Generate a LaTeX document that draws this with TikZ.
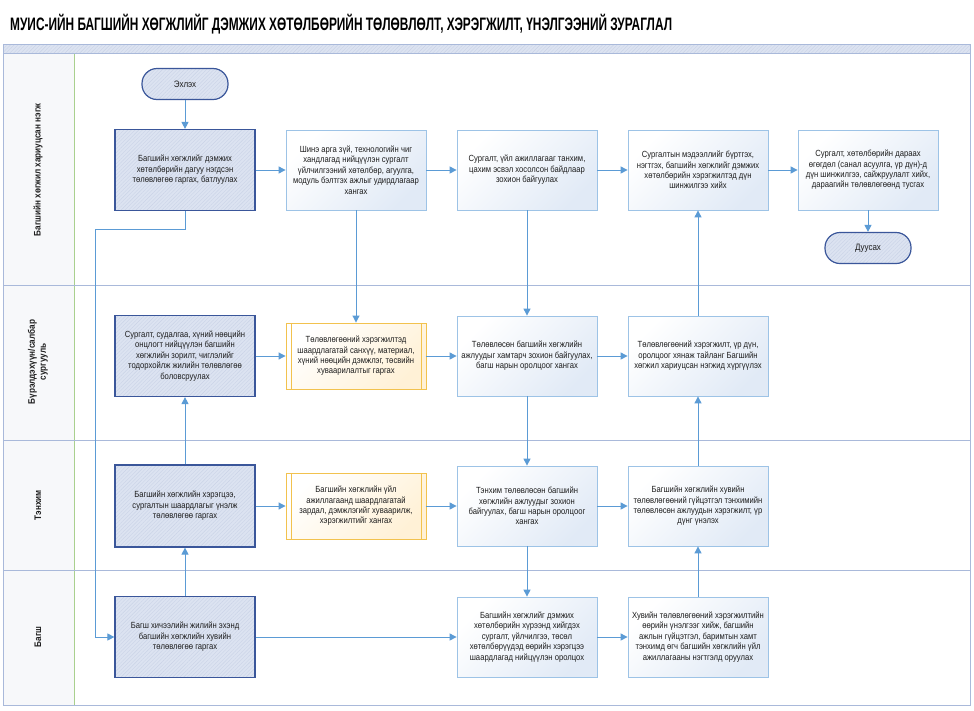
\documentclass[tikz,border=0pt]{standalone}
\usepackage{fontspec}
\setmainfont[FakeStretch=0.86]{Liberation Sans}
\newfontfamily\titlefont[FakeStretch=0.66]{Liberation Sans}
\usetikzlibrary{arrows.meta,patterns.meta}
\definecolor{connc}{HTML}{5B9BD5}
\definecolor{boxborder}{HTML}{9DC3E6}
\definecolor{boxfill}{HTML}{E1EAF6}
\definecolor{hatchfill}{HTML}{DCE3F1}
\definecolor{hatchline}{HTML}{CAD3E7}
\definecolor{navy}{HTML}{3A569A}
\definecolor{gold}{HTML}{F2C24E}
\definecolor{cream}{HTML}{FFF1D6}
\definecolor{lanec}{HTML}{A9B9DA}
\definecolor{lanegreen}{HTML}{A9D08E}
\definecolor{labelfill}{HTML}{F7F8FA}
\definecolor{txt}{HTML}{1E1E1E}
\tikzset{
  base/.style={align=center, font=\fontsize{8.9}{10.4}\selectfont, text=txt, inner sep=2pt},
  plainbox/.style={base, draw=boxborder, line width=0.8pt, minimum width=140pt, minimum height=80pt,
    top color=white, bottom color=boxfill, shading angle=45},
  hatchbox/.style={base, draw=navy, line width=1.2pt, minimum width=140pt, minimum height=81pt,
    preaction={fill=hatchfill}, pattern={Lines[angle=45,distance=2.6pt,line width=0.4pt]}, pattern color=hatchline},
  predefbox/.style={base, draw=gold, line width=0.9pt, minimum width=140pt, minimum height=66pt,
    top color=white, bottom color=cream, shading angle=45,
    path picture={\draw[gold, line width=0.8pt]
      ([xshift=5pt]path picture bounding box.north west) -- ([xshift=5pt]path picture bounding box.south west)
      ([xshift=-5pt]path picture bounding box.north east) -- ([xshift=-5pt]path picture bounding box.south east);}},
  termbox/.style={base, font=\fontsize{9.3}{11}\selectfont, draw=navy, line width=1.2pt, rounded corners=15pt, minimum width=86pt, minimum height=31pt,
    preaction={fill=hatchfill}, pattern={Lines[angle=45,distance=2.6pt,line width=0.4pt]}, pattern color=hatchline},
  lanelabel/.style={rotate=90, align=center, font=\bfseries\fontsize{9.5}{11}\selectfont, text=txt},
  arr/.style={draw=connc, line width=1pt, -{Triangle[length=7pt,width=7pt]}}
}
\begin{document}
\begin{tikzpicture}[x=1pt,y=-1pt]
\useasboundingbox (0,0) rectangle (974,710);
\fill[white] (0,0) rectangle (974,710);
% title
\node[anchor=west, inner sep=0, font=\titlefont\bfseries\fontsize{18}{20}\selectfont, text=black] (title) at (10,24)
  {МУИС-ИЙН БАГШИЙН ХӨГЖЛИЙГ ДЭМЖИХ ХӨТӨЛБӨРИЙН ТӨЛӨВЛӨЛТ, ХЭРЭГЖИЛТ, ҮНЭЛГЭЭНИЙ ЗУРАГЛАЛ};
% frame
\fill[hatchfill] (3,44) rectangle (970,53);
\fill[pattern={Lines[angle=45,distance=2.6pt,line width=0.4pt]}, pattern color=hatchline] (3,44) rectangle (970,53);
\fill[labelfill] (3,53) rectangle (74,705);
\draw[lanegreen, line width=0.8pt] (74,53) -- (74,705);
\draw[lanec, line width=0.9pt] (3,44) rectangle (970,705);
\draw[lanec, line width=0.9pt] (3,53) -- (970,53);
\draw[lanec, line width=0.9pt] (3,285) -- (970,285);
\draw[lanec, line width=0.9pt] (3,440) -- (970,440);
\draw[lanec, line width=0.9pt] (3,570) -- (970,570);
% lane labels
\node[lanelabel] (l1) at (38,170) {Багшийн хөгжил хариуцсан нэгж};
\node[lanelabel] (l2) at (38,362) {Бүрэлдэхүүн/салбар\\сургууль};
\node[lanelabel] (l3) at (38,505) {Тэнхим};
\node[lanelabel] (l4) at (38,637) {Багш};
% lane 1
\node[termbox] (start) at (185,84) {Эхлэх};
\node[hatchbox] (A) at (185,170) {Багшийн хөгжлийг дэмжих\\хөтөлбөрийн дагуу нэгдсэн\\төлөвлөгөө гаргах, батлуулах};
\node[plainbox] (B) at (356,170) {Шинэ арга зүй, технологийн чиг\\хандлагад нийцүүлэн сургалт\\үйлчилгээний хөтөлбөр, агуулга,\\модуль бэлтгэх ажлыг удирдлагаар\\хангах};
\node[plainbox] (C) at (527,170) {Сургалт, үйл ажиллагааг танхим,\\цахим эсвэл хосолсон байдлаар\\зохион байгуулах};
\node[plainbox] (D) at (698,170) {Сургалтын мэдээллийг бүртгэх,\\нэгтгэх, багшийн хөгжлийг дэмжих\\хөтөлбөрийн хэрэгжилтэд дүн\\шинжилгээ хийх};
\node[plainbox] (E) at (868,170) {Сургалт, хөтөлбөрийн дараах\\өгөгдөл (санал асуулга, үр дүн)-д\\дүн шинжилгээ, сайжруулалт хийх,\\дараагийн төлөвлөгөөнд тусгах};
\node[termbox] (end) at (868,248) {Дуусах};
% lane 2
\node[hatchbox] (F) at (185,356) {Сургалт, судалгаа, хүний нөөцийн\\онцлогт нийцүүлэн багшийн\\хөгжлийн зорилт, чиглэлийг\\тодорхойлж жилийн төлөвлөгөө\\боловсруулах};
\node[predefbox] (G) at (356,356) {Төлөвлөгөөний хэрэгжилтэд\\шаардлагатай санхүү, материал,\\хүний нөөцийн дэмжлэг, төсвийн\\хуваарилалтыг гаргах};
\node[plainbox] (H) at (527,356) {Төлөвлөсөн багшийн хөгжлийн\\ажлуудыг хамтарч зохион байгуулах,\\багш нарын оролцоог хангах};
\node[plainbox] (I) at (698,356) {Төлөвлөгөөний хэрэгжилт, үр дүн,\\оролцоог хянаж тайланг Багшийн\\хөгжил хариуцсан нэгжид хүргүүлэх};
% lane 3
\node[hatchbox, minimum height=82pt] (J) at (185,506) {Багшийн хөгжлийн хэрэгцээ,\\сургалтын шаардлагыг үнэлж\\төлөвлөгөө гаргах};
\node[predefbox] (K) at (356,506) {Багшийн хөгжлийн үйл\\ажиллагаанд шаардлагатай\\зардал, дэмжлэгийг хуваарилж,\\хэрэгжилтийг хангах};
\node[plainbox] (L) at (527,506) {Тэнхим төлөвлөсөн багшийн\\хөгжлийн ажлуудыг зохион\\байгуулах, багш нарын оролцоог\\хангах};
\node[plainbox] (M) at (698,506) {Багшийн хөгжлийн хувийн\\төлөвлөгөөний гүйцэтгэл тэнхимийн\\төлөвлөсөн ажлуудын хэрэгжилт, үр\\дүнг үнэлэх};
% lane 4
\node[hatchbox] (N) at (185,637) {Багш хичээлийн жилийн эхэнд\\багшийн хөгжлийн хувийн\\төлөвлөгөө гаргах};
\node[plainbox] (O) at (527,637) {Багшийн хөгжлийг дэмжих\\хөтөлбөрийн хүрээнд хийгдэх\\сургалт, үйлчилгээ, төсөл\\хөтөлбөрүүдэд өөрийн хэрэгцээ\\шаардлагад нийцүүлэн оролцох};
\node[plainbox] (P) at (698,637) {Хувийн төлөвлөгөөний хэрэгжилтийн\\өөрийн үнэлгээг хийж, багшийн\\ажлын гүйцэтгэл, баримтын хамт\\тэнхимд өгч багшийн хөгжлийн үйл\\ажиллагааны нэгтгэлд оруулах};
% connectors
\coordinate (t1) at (95,229);
\draw[arr] (start) -- (A);
\draw[arr] (A) -- (B);
\draw[arr] (B) -- (C);
\draw[arr] (C) -- (D);
\draw[arr] (D) -- (E);
\draw[arr] (E) -- (end);
\draw[arr] (A.south) |- (t1) |- (N.west);
\draw[arr] (B) -- (G);
\draw[arr] (C) -- (H);
\draw[arr] (F) -- (G);
\draw[arr] (G) -- (H);
\draw[arr] (H) -- (I);
\draw[arr] (I) -- (D);
\draw[arr] (H) -- (L);
\draw[arr] (J) -- (F);
\draw[arr] (J) -- (K);
\draw[arr] (K) -- (L);
\draw[arr] (L) -- (M);
\draw[arr] (M) -- (I);
\draw[arr] (L) -- (O);
\draw[arr] (N) -- (J);
\draw[arr] (N) -- (O);
\draw[arr] (O) -- (P);
\draw[arr] (P) -- (M);
\end{tikzpicture}
\end{document}
